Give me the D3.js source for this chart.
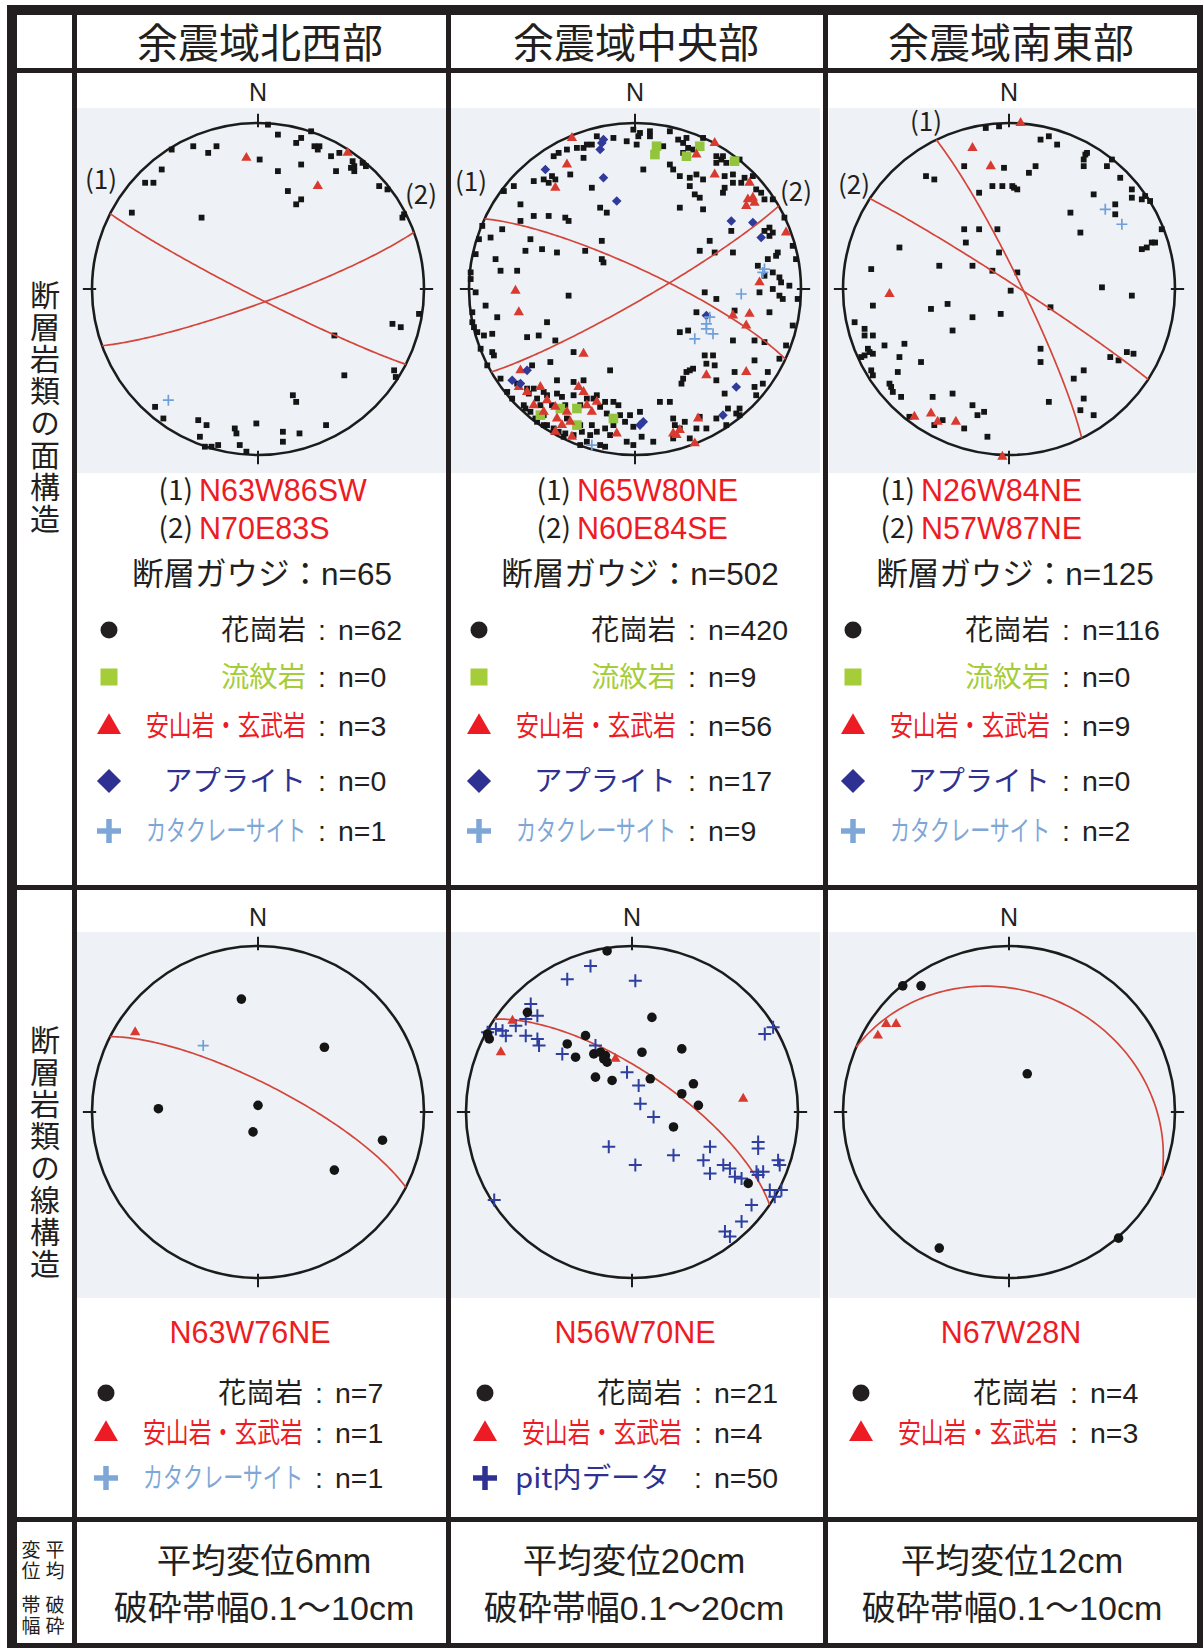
<!DOCTYPE html>
<html><head><meta charset="utf-8">
<script src="https://cdn.jsdelivr.net/npm/d3@7"></script>
<style>
html,body{margin:0;padding:0;background:#fff;}
svg{display:block;}
.vert{writing-mode:vertical-rl;text-orientation:upright;}
</style></head><body>
<svg id="chart" width="1203" height="1648"></svg>
<script>
// ---------------- DATA ----------------
const regions = ["余震域北西部","余震域中央部","余震域南東部"];
const rowLabels = ["断層岩類の面構造","断層岩類の線構造"];
const bottomTerms = ["平均変位","破砕帯幅"];

const planeOrient = [["N63W86SW","N70E83S"],["N65W80NE","N60E84SE"],["N26W84NE","N57W87NE"]];
const planeDipDir = [[207,160],[25,150],[64,33]];
const planeDip = [[86,83],[80,84],[84,87]];

const lineOrient = ["N63W76NE","N56W70NE","N67W28N"];
const lineDipDir = [27,34,23];
const lineDip = [76,70,28];

const gougeN = [65,502,125];
const nGranitePlane = [62,420,116];
const nRhyolitePlane = [0,9,0];
const nAndesitePlane = [3,56,9];
const nAplitePlane = [0,17,0];
const nCataPlane = [1,9,2];
const nGraniteLine = [7,21,4];
const nAndesiteLine = [1,4,3];
const nCataLine = [1,null,null];
const nPitLine = [null,50,null];

const displacement = ["平均変位6mm","平均変位20cm","平均変位12cm"];
const zoneWidth = ["破砕帯幅0.1～10cm","破砕帯幅0.1～20cm","破砕帯幅0.1～10cm"];

// point positions: [east, north] in percent of net radius
const planeGranite = [
 [[6,99],[12,93],[23,88],[26,91],[32,95],[34,86],[36,84],[44,80],[49,82],[57,77],[56,73],[58,71],[63,76],[65,74],[47,71],[12,71],[26,75],[18,59],[26,54],[23,51],[1,78],[-25,86],[-30,82],[-39,86],[-52,84],[-58,72],[-68,64],[-63,64],[-76,46],[-34,43],[73,62],[78,60],[88,45],[97,-15],[81,-21],[86,-23],[46,-28],[52,-52],[83,-53],[21,-64],[23,-68],[-1,-81],[15,-86],[15,-92],[25,-87],[41,-82],[-36,-79],[-31,-82],[-14,-84],[-13,-87],[-35,-89],[-32,-95],[-28,-95],[-24,-94],[-11,-94],[-62,-71],[-57,-78],[-7,-98],[37,86],[58,74],[87,43],[82,-49]],
 [[-13,91],[-1,96],[3,94],[2,92],[9,95],[9,92],[1,87],[17,86],[21,95],[26,90],[29,88],[31,91],[32,85],[29,82],[35,84],[21,75],[23,72],[49,80],[52,78],[49,76],[53,80],[55,76],[54,68],[59,69],[5,72],[27,68],[33,67],[37,69],[41,66],[33,62],[36,57],[39,55],[41,48],[27,49],[54,61],[53,58],[59,64],[64,64],[66,67],[73,60],[76,58],[78,54],[58,35],[78,35],[81,37],[83,34],[81,32],
  [-35,85],[-31,85],[-29,87],[-26,87],[-41,84],[-46,82],[-49,80],[-31,79],[-50,68],[-48,66],[-52,64],[-61,65],[-55,66],[-39,69],[-26,61],[-17,46],[-21,49],[-73,62],[-79,59],[-69,51],[-42,43],[-40,41],[-52,44],[-61,44],[-69,41],[-87,31],[-80,36],[-63,30],[-66,23],[-56,24],[-47,22],[-20,29],[-20,18],[-19,16],[-30,23],[-84,18],[-81,11],[-71,11],[-40,-4],[-96,-2],[-90,-10],[-83,-17],[-98,-20],[-97,-23],[-95,-26],[-91,-28],[-86,-27],[-86,-38],[-85,-40],[-65,-29],[-58,-28],[-53,-20],[-48,-31],[-37,-38],[-51,-44],
  [39,23],[48,22],[59,22],[45,29],[74,14],[80,18],[85,20],[86,22],[78,8],[83,10],[87,7],[88,4],[93,2],[83,0],[87,-4],[89,-6],[75,-2],[42,-2],[49,-6],[37,-14],[27,-26],[32,-25],[60,-13],[81,-14],[59,-31],[72,-31],[78,-32],[42,-40],[47,-40],[43,-45],[48,-46],[31,-50],[29,-54],[28,-57],[33,-49],[35,-48],[49,-55],[60,-50],[72,-43],[80,-50],[54,-63],[77,-57],[61,-75],[49,-78],[63,-72],
  [-15,-49],[-47,-55],[-37,-56],[-31,-55],[-62,-46],[-71,-57],[-65,-60],[-61,-60],[-64,-63],[-55,-62],[-53,-64],[-59,-66],[-57,-70],[-47,-63],[-44,-65],[-29,-66],[-25,-66],[-23,-64],[-21,-71],[-18,-68],[-17,-75],[-9,-76],[-6,-80],[-3,-76],[-42,-70],[-41,-78],[-49,-84],[-53,-82],[-59,-80],[-63,-74],[-67,-70],[-46,-86],[-42,-87],[-37,-88],[-32,-86],[-27,-88],[-23,-86],[-18,-84],[-15,-88],[-21,-94],[-18,-95],[-1,-83],[4,-89],[15,-68],[21,-68],[24,-82],[27,-84],[30,-80],[37,-84],[39,-77],[23,-78],[-5,-92],[-1,-94],
  [-77,-62],[-74,-66],[-66,-72],[-60,-78],[-55,-82],[-49,-86],[-43,-89],[-33,-94],[-29,-92],[-26,-82],[-33,-82],[-55,-76],[-50,-70],[-37,-64],[-33,-70],[-13,-82],[-10,-70],[-13,-68],[3,-74],[11,-92],[23,-90],[33,-90],[43,-84],[56,-72],[72,-59],
  [-92,38],[-94,30],[-96,21],[-99,10],[-99,6],[-98,-14],[-93,-36],[-89,-46],[-81,-54],
  [-23,92],[-5,89],[41,91],[63,78],[71,68],[83,54],[90,43],[95,26],[97,18],[98,-6],[95,-22],[91,-34],[87,-42],[73,-64],[63,-76],[55,-82]],
 [[-14,97],[-6,98],[19,90],[24,92],[29,87],[-27,74],[-3,73],[12,70],[16,74],[-50,68],[-45,66],[-10,62],[-4,62],[2,62],[5,60],[3,61],[-18,58],[46,81],[45,78],[47,82],[45,74],[59,74],[62,78],[67,67],[51,57],[74,60],[74,55],[80,54],[82,56],[85,53],[64,51],[64,45],[37,46],[43,34],[92,36],[80,24],[83,25],[86,28],[88,28],[-27,36],[-18,36],[-7,36],[-26,28],[-6,22],[-66,25],[-83,12],[-42,14],[-22,14],[-10,11],[5,10],[1,-1],[-82,-10],[-47,-12],[-37,-9],[-22,-17],[-5,-15],[25,-11],[56,1],[74,-4],[-93,-20],[-87,-24],[-87,-28],[-82,-28],[-75,-34],[-63,-33],[-85,-36],[-84,-38],[-87,-40],[-89,-41],[-82,-39],[-66,-41],[-34,-25],[-53,-44],[-83,-49],[-82,-52],[-67,-50],[19,-36],[19,-44],[45,-49],[39,-54],[61,-41],[66,-43],[71,-38],[75,-39],[-72,-57],[-71,-59],[-70,-62],[-65,-65],[-46,-65],[-34,-63],[-22,-70],[-19,-76],[-15,-74],[24,-68],[43,-73],[51,-76],[-27,-84],[-13,-89],[-60,-77],[-40,-79],[-45,-82],[45,-66]]
];
const planeRhyolite = [
 [],
 [[12,81],[13,86],[39,86],[31,80],[60,77],[-57,-76],[-45,-72],[-35,-82],[-13,-78],[-35,-72]],
 []
];
const planeAndesite = [
 [[-7,79],[36,62],[54,82]],
 [[-38,91],[-41,75],[-48,61],[48,88],[37,81],[48,69],[69,64],[68,54],[71,55],[72,52],[67,50],[91,34],[75,4],[-72,-1],[-70,-14],[-31,-39],[59,-16],[69,-15],[67,-22],[43,-52],[67,-50],[-69,-49],[-70,-59],[-57,-59],[-53,-67],[-48,-71],[-34,-59],[-31,-62],[-23,-68],[-26,-74],[-29,-70],[-41,-74],[-39,-80],[-47,-78],[-48,-86],[-38,-89],[-11,-87],[23,-87],[25,-88],[27,-85],[38,-78],[36,-93],[-65,-62],[-61,-70],[-55,-74],[-44,-82]],
 [[7,100],[-22,85],[-11,74],[-72,-3],[-57,-77],[-47,-75],[-43,-80],[-32,-80],[-4,-101]]
];
const planeAplite = [
 [],
 [[-20,88],[-21,84],[-19,90],[-54,72],[-19,67],[-11,53],[58,41],[71,40],[76,31],[43,-16],[-65,-49],[-74,-55],[5,-80],[3,-82],[61,-59],[53,-76],[-69,-57]],
 []
];
const planeCata = [
 [[-54,-67]],
 [[78,12],[64,-3],[45,-17],[43,-24],[47,-27],[36,-30],[43,-21],[-26,-94],[77,10]],
 [[58,48],[68,39]]
];

const lineGranite = [
 [[-10,68],[40,39],[-60,2],[0,4],[-3,-12],[75,-17],[46,-35]],
 [[-15,97],[12,57],[-63,60],[-86,44],[-87,47],[-28,46],[-39,41],[-34,33],[-23,35],[-19,36],[-16,34],[-15,30],[-17,32],[6,36],[30,38],[-22,21],[-12,19],[11,20],[37,17],[30,11],[40,4],[25,-9],[70,-43]],
 [[-64,76],[-53,76],[11,23],[-42,-82],[66,-76]]
];
const lineAndesite = [
 [[-74,48]],
 [[-72,55],[-79,36],[-10,32],[67,8]],
 [[-74,53],[-68,53],[-79,46]]
];
const lineCata = [[[-33,40]],[],[]];
const linePit = [
 [],
 [[-25,88],[-39,80],[2,79],[-61,65],[-57,58],[-64,56],[-87,48],[-82,50],[-78,49],[-76,46],[-64,46],[-57,44],[-56,40],[-42,35],[-22,40],[-3,24],[4,16],[5,5],[13,-3],[80,47],[85,51],[-14,-21],[2,-32],[25,-26],[47,-21],[43,-29],[47,-37],[55,-32],[59,-34],[62,-39],[66,-40],[76,-18],[76,-22],[76,-38],[79,-36],[88,-29],[89,-32],[90,-47],[86,-51],[72,-56],[66,-66],[56,-72],[59,-75],[-83,-53],[-70,52],[75,-36],[83,-47]],
 []
];

// ---------------- LAYOUT / STYLE ----------------
const W = 1203, H = 1648;
const INK = "#231f20", RED = "#ed1c24", GREEN = "#a5cd39", NAVY = "#2e3192", SKY = "#7ea7d8";
const CJK = "'Noto Sans CJK JP', sans-serif";
const LAT = "'Liberation Sans', Arial, 'Noto Sans CJK JP', sans-serif";
const colCenters = [261, 637, 1012];
const cellX = [[77,446],[451,820],[829,1196]];
const R = 166;
const netCx = [[258,635,1009],[258,632,1009]];
const netCy = [289, 1112];
const panelY = [[108,473],[932,1298]];
const nLabelY = [92, 917];

const svg = d3.select("#chart");
svg.append("rect").attr("width",W).attr("height",H).attr("fill","#fff");

function txt(g, x, y, s, size, opt = {}) {
  return g.append("text")
    .attr("x", x).attr("y", y + size * 0.36)
    .attr("font-size", size)
    .attr("font-family", opt.family || CJK)
    .attr("fill", opt.fill || INK)
    .attr("text-anchor", opt.anchor || "middle")
    .text(s);
}
// text horizontally fitted to a given width via a scale transform
function fitTxt(g, x0, y, s, size, len, fill) {
  const t = g.append("text")
    .attr("x", 0).attr("y", 0)
    .attr("font-size", size).attr("font-family", CJK)
    .attr("fill", fill).attr("text-anchor", "start").text(s);
  const w = t.node().getComputedTextLength() || len;
  t.attr("transform", `translate(${x0},${y + size * 0.36}) scale(${len / w},1)`);
  return t;
}
// vertical (top-to-bottom) text; x = column centre, yTop = top of first glyph
function vTxt(x, yTop, s, size, spacing) {
  return svg.append("text").attr("class", "vert")
    .attr("x", x).attr("y", yTop)
    .attr("font-size", size).attr("font-family", CJK)
    .attr("letter-spacing", spacing)
    .attr("fill", INK).text(s);
}

// header titles
regions.forEach((r, i) => txt(svg, colCenters[i] - 1, 43, r, 41));

// vertical row labels
const rowLabelTop = [280, 1025];
rowLabels.forEach((lab, i) => vTxt(45, rowLabelTop[i], lab, 30, 2));

// bottom-left small label (vertical, right column first)
bottomTerms.forEach((term, i) => {
  const chars = Array.from(term);
  const top = [1540, 1595][i];
  vTxt(55, top, chars.slice(0, 2).join(""), 19, 2.5);
  vTxt(31, top, chars.slice(2).join(""), 19, 2.5);
});

// great circle through equal-area lower-hemisphere projection
function greatCircle(dipDir, dip) {
  const a = dipDir * Math.PI / 180, d = dip * Math.PI / 180;
  const s = [Math.sin(a - Math.PI / 2), Math.cos(a - Math.PI / 2), 0];
  const v = [Math.sin(a) * Math.cos(d), Math.cos(a) * Math.cos(d), Math.sin(d)];
  return d3.range(0, 180.5, 1.5).map(tDeg => {
    const t = tDeg * Math.PI / 180;
    const e = Math.cos(t) * s[0] + Math.sin(t) * v[0];
    const n = Math.cos(t) * s[1] + Math.sin(t) * v[1];
    const dn = Math.sin(t) * v[2];
    const pl = Math.asin(Math.min(1, dn));
    const tr = Math.atan2(e, n);
    const r = Math.SQRT2 * Math.sin((Math.PI / 2 - pl) / 2);
    return [r * Math.sin(tr) * 100, r * Math.cos(tr) * 100];
  });
}

function drawNet(row, col) {
  const cx = netCx[row][col], cy = netCy[row];
  const g = svg.append("g");
  g.append("rect").attr("x", cellX[col][0]).attr("y", panelY[row][0])
    .attr("width", cellX[col][1] - cellX[col][0]).attr("height", panelY[row][1] - panelY[row][0])
    .attr("fill", "#eef2f6");
  const x = d3.scaleLinear().domain([-100, 100]).range([cx - R, cx + R]);
  const y = d3.scaleLinear().domain([-100, 100]).range([cy + R, cy - R]);
  g.append("circle").attr("cx", x(0)).attr("cy", y(0)).attr("r", x(100) - x(0))
    .attr("fill", "none").attr("stroke", "#1c1c1c").attr("stroke-width", 2.6);
  const ticks = [[[0,105.5],[0,97.5]],[[0,-105.5],[0,-97.5]],[[105.5,0],[97.5,0]],[[-105.5,0],[-97.5,0]]];
  ticks.forEach(tk => g.append("line")
    .attr("x1", x(tk[0][0])).attr("y1", y(tk[0][1])).attr("x2", x(tk[1][0])).attr("y2", y(tk[1][1]))
    .attr("stroke", "#1c1c1c").attr("stroke-width", 2));
  txt(svg, x(0), nLabelY[row], "N", 25, { family: LAT });
  return { g, x, y };
}

const lineGen = (s) => d3.line().x(d => s.x(d[0])).y(d => s.y(d[1]));
function sym(type, size) { return d3.symbol().type(type).size(size)(); }
function drawPts(s, pts, kind) {
  const sel = s.g.selectAll(null).data(pts).enter();
  if (kind === "sq") sel.append("rect").attr("x", d => s.x(d[0]) - 2.9).attr("y", d => s.y(d[1]) - 2.9)
    .attr("width", 5.8).attr("height", 5.8).attr("fill", "#151515");
  if (kind === "green") sel.append("rect").attr("x", d => s.x(d[0]) - 4.8).attr("y", d => s.y(d[1]) - 4.8)
    .attr("width", 9.6).attr("height", 9.6).attr("fill", "#93c43d");
  if (kind === "tri") sel.append("path").attr("d", sym(d3.symbolTriangle, 46))
    .attr("transform", d => `translate(${s.x(d[0])},${s.y(d[1])})`).attr("fill", "#d93a2f");
  if (kind === "dia") sel.append("path").attr("d", sym(d3.symbolSquare, 46))
    .attr("transform", d => `translate(${s.x(d[0])},${s.y(d[1])}) rotate(45)`).attr("fill", "#2f3a9a");
  if (kind === "plus") sel.append("path").attr("d", "M-5.5,0H5.5M0,-5.5V5.5")
    .attr("transform", d => `translate(${s.x(d[0])},${s.y(d[1])})`).attr("stroke", "#6f9fd8").attr("stroke-width", 1.7);
  if (kind === "pit") sel.append("path").attr("d", "M-6.5,0H6.5M0,-6.5V6.5")
    .attr("transform", d => `translate(${s.x(d[0])},${s.y(d[1])})`).attr("stroke", "#2f3f9f").attr("stroke-width", 2);
  if (kind === "dot") sel.append("circle").attr("cx", d => s.x(d[0])).attr("cy", d => s.y(d[1]))
    .attr("r", 4.8).attr("fill", "#151515");
}

// ----- row 1: plane structures -----
const pLabPos = [[[101,180],[421,195]],[[471,182],[796,192]],[[926,122],[854,185]]];
for (let c = 0; c < 3; c++) {
  const s = drawNet(0, c);
  drawPts(s, planeGranite[c], "sq");
  drawPts(s, planeRhyolite[c], "green");
  drawPts(s, planeAndesite[c], "tri");
  drawPts(s, planeAplite[c], "dia");
  drawPts(s, planeCata[c], "plus");
  for (let k = 0; k < 2; k++) {
    s.g.append("path").datum(greatCircle(planeDipDir[c][k], planeDip[c][k]))
      .attr("d", lineGen(s)).attr("fill", "none").attr("stroke", "#d4453a").attr("stroke-width", 1.7);
    txt(svg, pLabPos[c][k][0], pLabPos[c][k][1], `(${k + 1})`, 26);
  }
}
// ----- row 2: lineations -----
for (let c = 0; c < 3; c++) {
  const s = drawNet(1, c);
  s.g.append("path").datum(greatCircle(lineDipDir[c], lineDip[c]))
    .attr("d", lineGen(s)).attr("fill", "none").attr("stroke", "#d4453a").attr("stroke-width", 1.7);
  drawPts(s, linePit[c], "pit");
  drawPts(s, lineCata[c], "plus");
  drawPts(s, lineGranite[c], "dot");
  drawPts(s, lineAndesite[c], "tri");
}

// ----- orientation texts -----
const splitX = [196, 574, 918];
[490, 528].forEach((yy, k) => {
  for (let c = 0; c < 3; c++) {
    txt(svg, splitX[c] - 3, yy, `(${k + 1})`, 28, { anchor: "end" });
    txt(svg, splitX[c] + 3, yy, planeOrient[c][k], 30.5, { anchor: "start", family: LAT, fill: RED });
  }
});
const gougeX = [262, 640, 1015];
for (let c = 0; c < 3; c++) txt(svg, gougeX[c], 574, `断層ガウジ：n=${gougeN[c]}`, 31.5, { family: LAT });
const lineLabX = [250, 635, 1011];
for (let c = 0; c < 3; c++) txt(svg, lineLabX[c], 1332, lineOrient[c], 30.5, { family: LAT, fill: RED });

// ----- legends -----
function legendSymbol(kind, x, y) {
  if (kind === "dot") svg.append("circle").attr("cx", x).attr("cy", y).attr("r", 8.5).attr("fill", INK);
  if (kind === "sq") svg.append("rect").attr("x", x - 8.5).attr("y", y - 8.5).attr("width", 17).attr("height", 17).attr("fill", GREEN);
  if (kind === "tri") svg.append("path").attr("d", sym(d3.symbolTriangle, 250)).attr("transform", `translate(${x},${y + 1})`).attr("fill", RED);
  if (kind === "dia") svg.append("path").attr("d", sym(d3.symbolSquare, 290)).attr("transform", `translate(${x},${y}) rotate(45)`).attr("fill", NAVY);
  if (kind === "plus") svg.append("path").attr("d", "M-12,0H12M0,-12V12").attr("transform", `translate(${x},${y})`).attr("stroke", SKY).attr("stroke-width", 5.5);
  if (kind === "pit") svg.append("path").attr("d", "M-12,0H12M0,-12V12").attr("transform", `translate(${x},${y})`).attr("stroke", NAVY).attr("stroke-width", 5.5);
}
const labelStyle = {
  "花崗岩": { fill: INK, len: 85 }, "流紋岩": { fill: GREEN, len: 85 },
  "安山岩・玄武岩": { fill: RED, len: 160 }, "アプライト": { fill: NAVY, len: 142 },
  "カタクレーサイト": { fill: SKY, len: 160 }, "pit内データ": { fill: NAVY, len: 155, start: 30 }
};
function legendRow(sx, y, kind, label, n) {
  legendSymbol(kind, sx, y);
  const st = labelStyle[label];
  const x0 = st.start !== undefined ? sx + st.start : sx + 197 - st.len;
  fitTxt(svg, x0, y, label, 28, st.len, st.fill);
  txt(svg, sx + 213, y, ":", 28.5, { family: LAT });
  txt(svg, sx + 229, y, `n=${n}`, 28.5, { anchor: "start", family: LAT });
}
const leg1X = [109, 479, 853];
const leg1Y = [630, 677, 726, 781, 831];
for (let c = 0; c < 3; c++) {
  legendRow(leg1X[c], leg1Y[0], "dot", "花崗岩", nGranitePlane[c]);
  legendRow(leg1X[c], leg1Y[1], "sq", "流紋岩", nRhyolitePlane[c]);
  legendRow(leg1X[c], leg1Y[2], "tri", "安山岩・玄武岩", nAndesitePlane[c]);
  legendRow(leg1X[c], leg1Y[3], "dia", "アプライト", nAplitePlane[c]);
  legendRow(leg1X[c], leg1Y[4], "plus", "カタクレーサイト", nCataPlane[c]);
}
const leg2X = [106, 485, 861];
const leg2Y = [1393, 1433, 1478];
for (let c = 0; c < 3; c++) {
  legendRow(leg2X[c], leg2Y[0], "dot", "花崗岩", nGraniteLine[c]);
  legendRow(leg2X[c], leg2Y[1], "tri", "安山岩・玄武岩", nAndesiteLine[c]);
  if (nCataLine[c] !== null) legendRow(leg2X[c], leg2Y[2], "plus", "カタクレーサイト", nCataLine[c]);
  if (nPitLine[c] !== null) legendRow(leg2X[c], leg2Y[2], "pit", "pit内データ", nPitLine[c]);
}

// ----- bottom row -----
const botX = [264, 634, 1012];
for (let c = 0; c < 3; c++) {
  txt(svg, botX[c], 1561, displacement[c], 34.5, { family: LAT });
  txt(svg, botX[c], 1608, zoneWidth[c], 34, { family: LAT });
}

// ----- table grid -----
const grid = svg.append("g").attr("fill", INK);
[[7,5,1196,10],[7,5,10,1643],[1197,5,6,1643],[7,1643,1196,5],
 [7,68,1196,5],[7,885,1196,5],[7,1517,1196,5],
 [72,5,5,1643],[446,5,5,1643],[823,5,5,1643]].forEach(r =>
  grid.append("rect").attr("x", r[0]).attr("y", r[1]).attr("width", r[2]).attr("height", r[3]));
</script>
</body></html>
